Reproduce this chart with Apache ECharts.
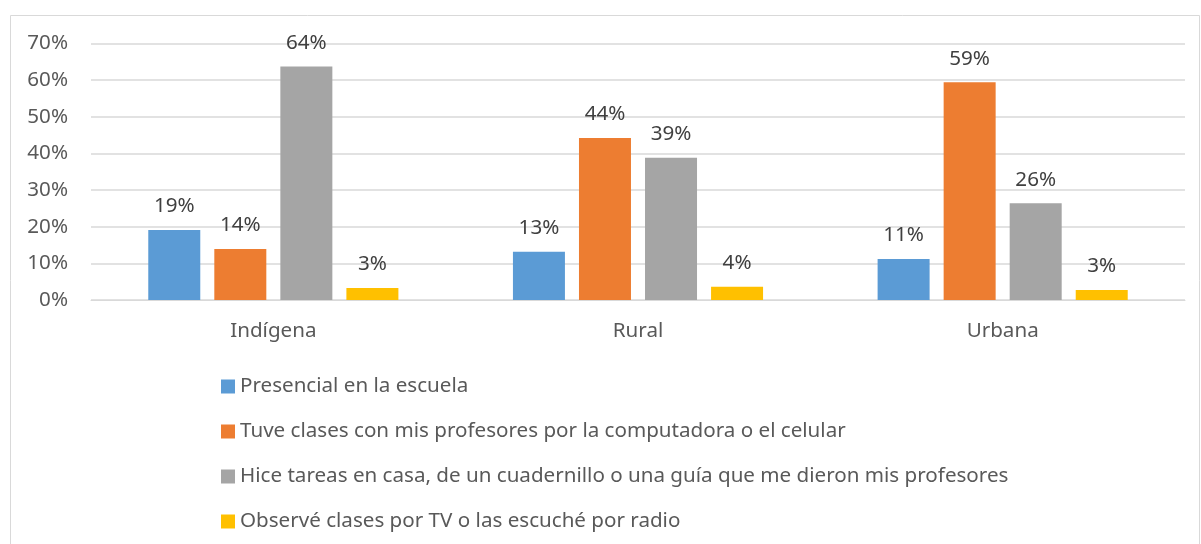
<!DOCTYPE html>
<html>
<head>
<meta charset="utf-8">
<script src="https://cdn.jsdelivr.net/npm/echarts@6/dist/echarts.min.js"></script>
<style>
  html, body { margin: 0; padding: 0; background: #fff; }
  #chart { width: 1201px; height: 544px; }
</style>
</head>
<body>
<div id="chart"></div>
<script>
// categorias y valores (en %)
const categories = ['Indígena', 'Rural', 'Urbana'];
const seriesNames = [
  'Presencial en la escuela',
  'Tuve clases con mis profesores por la computadora o el celular',
  'Hice tareas en casa, de un cuadernillo o una guía que me dieron mis profesores',
  'Observé clases por TV o las escuché por radio'
];
const presencial = [19.1, 13.2, 11.2];
const clasesEnLinea = [13.9, 44.2, 59.4];
const tareasCasa = [63.7, 38.8, 26.4];
const tvRadio = [3.3, 3.6, 2.7];
const yTicks = [0, 10, 20, 30, 40, 50, 60, 70];

const colors = ['#5B9BD5', '#ED7D31', '#A5A5A5', '#FFC000'];
const font = 'Noto Sans';
const textColor = '#595959';
const fontSize = 20.6;

function makeSeries(name, data, i) {
  return {
    name: name,
    type: 'bar',
    data: data,
    barWidth: 52,
    barGap: '27%',
    itemStyle: { color: colors[i] },
    label: {
      show: true,
      position: 'top',
      distance: 13,
      color: '#404040',
      fontFamily: font,
      fontSize: fontSize,
      formatter: p => Math.round(p.value) + '%'
    }
  };
}

let chart = echarts.init(document.getElementById('chart'));
chart.setOption({
  animation: false,
  graphic: [{
    type: 'rect',
    shape: { x: 10.5, y: 15.5, width: 1189, height: 540 },
    style: { fill: 'none', stroke: '#D9D9D9', lineWidth: 1 },
    silent: true
  }],
  grid: { left: 91, right: 16, top: 43.5, bottom: 244 },
  legend: {
    orient: 'vertical',
    left: 221,
    top: 376,
    padding: 0,
    itemWidth: 14,
    itemHeight: 14,
    itemGap: 24,
    icon: 'rect',
    textStyle: { color: textColor, fontFamily: font, fontSize: fontSize },
    data: seriesNames
  },
  xAxis: {
    type: 'category',
    data: categories,
    axisLine: { lineStyle: { color: '#D9D9D9', width: 1 } },
    axisTick: { show: false },
    axisLabel: { color: textColor, fontFamily: font, fontSize: fontSize, margin: 21 }
  },
  yAxis: {
    type: 'value',
    min: yTicks[0],
    max: yTicks[yTicks.length - 1],
    interval: 10,
    axisLine: { show: false },
    axisTick: { show: false },
    splitLine: { lineStyle: { color: '#D9D9D9', width: 1.5 } },
    axisLabel: { color: textColor, fontFamily: font, fontSize: fontSize, margin: 23, formatter: v => v + '%' }
  },
  series: [
    makeSeries(seriesNames[0], presencial, 0),
    makeSeries(seriesNames[1], clasesEnLinea, 1),
    makeSeries(seriesNames[2], tareasCasa, 2),
    makeSeries(seriesNames[3], tvRadio, 3)
  ]
});
window.addEventListener('resize', () => { chart.resize(); });
</script>
</body>
</html>
